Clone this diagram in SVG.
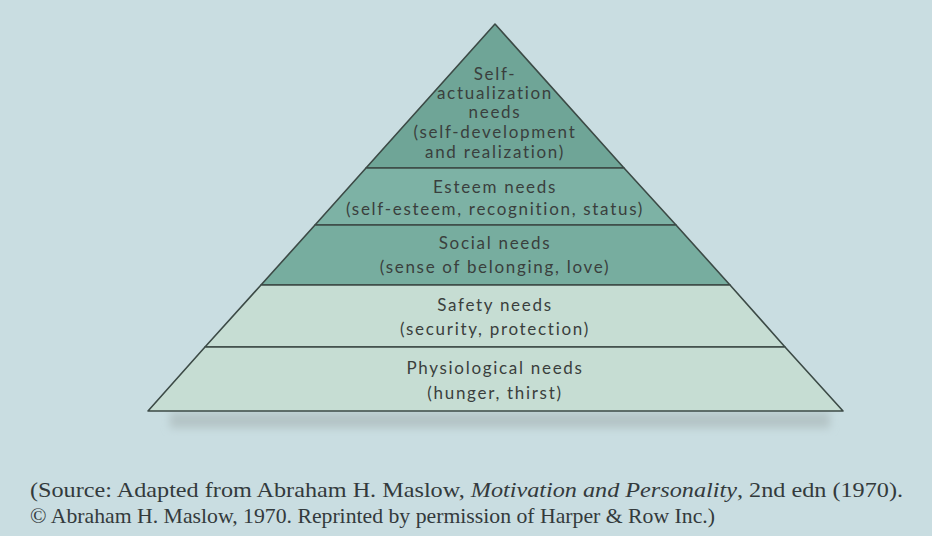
<svg xmlns="http://www.w3.org/2000/svg" width="932" height="536" viewBox="0 0 932 536">
<defs>
<style>
.tier{stroke:#3c4a46;stroke-width:1.6;stroke-linejoin:round}
.dark{fill:#77ad9f}
.light{fill:#c6ddd3}
.t{font-family:"Lato","Open Sans","DejaVu Sans",sans-serif;font-size:17px;letter-spacing:1.7px;fill:#3a3f3d;text-anchor:middle}
.cap{font-family:"Liberation Serif","DejaVu Serif",serif;font-size:21px;fill:#333a3c}
</style>
<filter id="sh" x="-10%" y="-50%" width="120%" height="200%"><feGaussianBlur stdDeviation="4"/></filter>
</defs>
<rect width="932" height="536" fill="#c9dde1"/>
<rect x="170" y="412" width="660" height="16" fill="#b4c4c6" filter="url(#sh)"/>
<g id="self-actualization">
<polygon class="tier dark" points="495,24 624,168 366,168" style="fill:#6fa597"/>
<text class="t" x="495" y="80">Self-</text>
<text class="t" x="495" y="99">actualization</text>
<text class="t" x="495" y="118">needs</text>
<text class="t" x="495" y="138">(self-development</text>
<text class="t" x="495" y="158">and realization)</text>
</g>
<g id="esteem">
<polygon class="tier dark" points="366,168 624,168 676,225 315,225" style="fill:#7db2a5"/>
<text class="t" x="495" y="193">Esteem needs</text>
<text class="t" x="495" y="215">(self-esteem, recognition, status)</text>
</g>
<g id="social">
<polygon class="tier dark" points="315,225 676,225 730,285 261,285"/>
<text class="t" x="495" y="249">Social needs</text>
<text class="t" x="495" y="273">(sense of belonging, love)</text>
</g>
<g id="safety">
<polygon class="tier light" points="261,285 730,285 785,347 205,347"/>
<text class="t" x="495" y="311">Safety needs</text>
<text class="t" x="495" y="335">(security, protection)</text>
</g>
<g id="physiological">
<polygon class="tier light" points="205,347 785,347 843,411 148,411"/>
<text class="t" x="495" y="374">Physiological needs</text>
<text class="t" x="495" y="399">(hunger, thirst)</text>
</g>
<g id="caption">
<text class="cap" x="30" y="497" textLength="873" lengthAdjust="spacingAndGlyphs">(Source: Adapted from Abraham H. Maslow, <tspan font-style="italic">Motivation and Personality</tspan>, 2nd edn (1970).</text>
<text class="cap" x="30" y="523" textLength="685" lengthAdjust="spacingAndGlyphs">© Abraham H. Maslow, 1970. Reprinted by permission of Harper &amp; Row Inc.)</text>
</g>
</svg>
